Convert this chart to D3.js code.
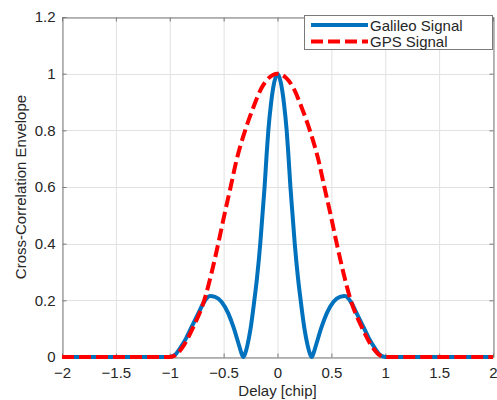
<!DOCTYPE html>
<html>
<head>
<meta charset="utf-8">
<script src="https://cdn.jsdelivr.net/npm/d3@7/dist/d3.min.js"></script>
<style>
  html, body { margin: 0; padding: 0; background: #fff; }
  svg { display: block; font-family: "Liberation Sans", Arial, Helvetica, sans-serif; }
</style>
</head>
<body>
<svg id="chart" width="497" height="400"></svg>
<script>
// ---- Data ----
const xTicks = [-2, -1.5, -1, -0.5, 0, 0.5, 1, 1.5, 2];
const xTickLabels = ["\u22122", "\u22121.5", "\u22121", "\u22120.5", "0", "0.5", "1", "1.5", "2"];
const yTicks = [0, 0.2, 0.4, 0.6, 0.8, 1, 1.2];
const yTickLabels = ["0", "0.2", "0.4", "0.6", "0.8", "1", "1.2"];

const seriesNames = ["Galileo Signal", "GPS Signal"];

// Galileo signal: delay and envelope
const galileoDelay = [-2, -1.5, -1, -0.95, -0.896, -0.85, -0.796, -0.735, -0.68, -0.627, -0.58, -0.52, -0.457, -0.41, -0.36, -0.335, -0.317, -0.30, -0.28, -0.25, -0.215, -0.19, -0.16, -0.14, -0.12, -0.10, -0.085, -0.06, -0.03, 0,
                      0.03, 0.06, 0.085, 0.10, 0.12, 0.14, 0.16, 0.19, 0.215, 0.25, 0.28, 0.30, 0.317, 0.335, 0.36, 0.41, 0.457, 0.52, 0.58, 0.627, 0.68, 0.735, 0.796, 0.85, 0.896, 0.95, 1, 1.5, 2];
const galileoValue = [0, 0, 0, 0.008, 0.036, 0.065, 0.107, 0.154, 0.195, 0.215, 0.212, 0.195, 0.154, 0.107, 0.045, 0.014, 0.0, 0.012, 0.04, 0.10, 0.20, 0.28, 0.40, 0.50, 0.60, 0.72, 0.80, 0.895, 0.97, 1.0,
                      0.97, 0.895, 0.80, 0.72, 0.60, 0.50, 0.40, 0.28, 0.20, 0.10, 0.04, 0.012, 0.0, 0.014, 0.045, 0.107, 0.154, 0.195, 0.212, 0.215, 0.195, 0.154, 0.107, 0.065, 0.036, 0.008, 0, 0, 0];

// GPS signal: delay and envelope
const gpsDelay = [-2, -1.5, -1, -0.95, -0.89, -0.78, -0.68, -0.61, -0.55, -0.494, -0.435, -0.38, -0.3, -0.225, -0.147, -0.08, 0,
                  0.08, 0.147, 0.225, 0.3, 0.38, 0.435, 0.494, 0.55, 0.61, 0.68, 0.78, 0.89, 0.95, 1, 1.5, 2];
const gpsValue = [0, 0, 0, 0.006, 0.03, 0.107, 0.2, 0.3, 0.4, 0.5, 0.6, 0.695, 0.8, 0.88, 0.95, 0.985, 1.0,
                  0.985, 0.95, 0.88, 0.8, 0.695, 0.6, 0.5, 0.4, 0.3, 0.2, 0.107, 0.03, 0.006, 0, 0, 0];

// ---- Layout ----
const svg = d3.select("#chart");
const L = 62, R = 493, T = 17, B = 357;
const x = d3.scaleLinear().domain([-2, 2]).range([L, R]);
const y = d3.scaleLinear().domain([0, 1.2]).range([B, T]);

const axisColor = "#262626";
const gridColor = "#e1e1e1";
const blue = "#0072BD";
const red = "#FF0000";

// Grid
const grid = svg.append("g");
grid.selectAll("line.gx").data(xTicks).join("line")
  .attr("x1", d => x(d) + 0.5).attr("x2", d => x(d) + 0.5)
  .attr("y1", T).attr("y2", B)
  .attr("stroke", gridColor).attr("stroke-width", 1);
grid.selectAll("line.gy").data(yTicks).join("line")
  .attr("x1", L).attr("x2", R)
  .attr("y1", d => Math.round(y(d)) + 0.5).attr("y2", d => Math.round(y(d)) + 0.5)
  .attr("stroke", gridColor).attr("stroke-width", 1);

// Axes (bottom / left with labels; top / right ticks only)
const tickLen = 4;
const fmtX = d => xTickLabels[xTicks.indexOf(d)];
const fmtY = d => yTickLabels[yTicks.indexOf(d)];

function styleAxis(g) {
  g.select(".domain").attr("stroke", "#7a7a7a").attr("stroke-width", 1);
  g.selectAll(".tick line").attr("stroke", "#7a7a7a");
  g.selectAll(".tick text").attr("fill", axisColor).style("font-size", "15px")
    .style("font-family", "'Liberation Sans', Arial, Helvetica, sans-serif");
}

svg.append("g").attr("transform", `translate(0,${B + 0.5})`)
  .call(d3.axisBottom(x).tickValues(xTicks).tickFormat(fmtX).tickSizeInner(-tickLen).tickSizeOuter(0).tickPadding(10))
  .call(styleAxis);
svg.append("g").attr("transform", `translate(0,${T + 0.5})`)
  .call(d3.axisTop(x).tickValues(xTicks).tickFormat("").tickSizeInner(-tickLen).tickSizeOuter(0))
  .call(styleAxis);
svg.append("g").attr("transform", `translate(${L + 0.5},0)`)
  .call(d3.axisLeft(y).tickValues(yTicks).tickFormat(fmtY).tickSizeInner(-tickLen).tickSizeOuter(0).tickPadding(7))
  .call(styleAxis);
svg.append("g").attr("transform", `translate(${R + 0.5},0)`)
  .call(d3.axisRight(y).tickValues(yTicks).tickFormat("").tickSizeInner(-tickLen).tickSizeOuter(0))
  .call(styleAxis);

// Lines
const line = d3.line().x(d => x(d[0])).y(d => y(d[1])).curve(d3.curveMonotoneX);
const galData = galileoDelay.map((d, i) => [d, galileoValue[i]]);
const gpsData = gpsDelay.map((d, i) => [d, gpsValue[i]]);

svg.append("path").datum(galData).attr("d", line)
  .attr("fill", "none").attr("stroke", blue).attr("stroke-width", 4).attr("stroke-linejoin", "round");
svg.append("path").datum(gpsData).attr("d", line)
  .attr("fill", "none").attr("stroke", red).attr("stroke-width", 4).attr("stroke-dasharray", "12,5");

// Axis labels
svg.append("text").attr("x", (L + R) / 2).attr("y", 396)
  .attr("text-anchor", "middle").attr("fill", axisColor).style("font-size", "15px")
  .text("Delay [chip]");
svg.append("text").attr("transform", `translate(26,${(T + B) / 2}) rotate(-90)`)
  .attr("text-anchor", "middle").attr("fill", axisColor).style("font-size", "15px")
  .text("Cross-Correlation Envelope");

// Legend
const lg = svg.append("g");
lg.append("rect").attr("x", 304.5).attr("y", 15.5).attr("width", 188).attr("height", 34)
  .attr("fill", "#fff").attr("stroke", "#7a7a7a").attr("stroke-width", 1);
const rows = [
  { name: seriesNames[0], color: blue, dash: null, cy: 25 },
  { name: seriesNames[1], color: red, dash: "12,5", cy: 41.5 }
];
rows.forEach(r => {
  lg.append("line").attr("x1", 311).attr("x2", 368).attr("y1", r.cy).attr("y2", r.cy)
    .attr("stroke", r.color).attr("stroke-width", 4).attr("stroke-dasharray", r.dash);
  lg.append("text").attr("x", 370).attr("y", r.cy + 5.5).attr("fill", axisColor)
    .style("font-size", "15px").text(r.name);
});
</script>
</body>
</html>
